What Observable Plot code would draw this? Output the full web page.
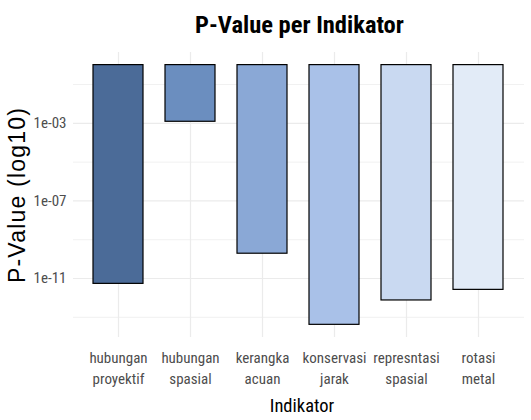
<!DOCTYPE html>
<html><head><meta charset="utf-8">
<script src="https://cdn.jsdelivr.net/npm/d3@7"></script>
<script src="https://cdn.jsdelivr.net/npm/@observablehq/plot@0.6"></script>
<style>
body{margin:0;background:#fff;}
#wrap{position:relative;width:531px;height:420px;}
#title{position:absolute;left:74px;width:451px;top:10px;text-align:center;font-weight:bold;font-size:24.5px;font-family:"Roboto Condensed",Roboto,sans-serif;font-stretch:condensed;color:#000;line-height:30px;}
</style></head><body><div id="wrap"><div id="title">P-Value per Indikator</div></div>
<script>
const indikator = ["hubungan proyektif","hubungan spasial","kerangka acuan","konservasi jarak","represntasi spasial","rotasi metal"];
const pValues = [5.3e-12, 1.2e-3, 1.9e-10, 4.1e-14, 7.4e-13, 2.6e-12];
const fillColors = ["#4b6b98","#6b8ebf","#8aa8d6","#a9c1e8","#c9d9f1","#e2ebf7"];
const majorTicks = [1e-3, 1e-7, 1e-11];
const majorLabels = ["1e-03", "1e-07", "1e-11"];
const minorTicks = [1e-1, 1e-5, 1e-9, 1e-13];

const data = indikator.map((k, i) => ({indikator: k, p: pValues[i], color: fillColors[i]}));
const labelOf = new Map(majorTicks.map((t, i) => [t, majorLabels[i]]));
const narrow = '"Roboto Condensed",Roboto,sans-serif';

const chart = Plot.plot({
  width: 531, height: 420,
  marginTop: 52, marginBottom: 83, marginLeft: 73, marginRight: 7,
  style: {background: "transparent", fontFamily: narrow, fontSize: "15px", color: "#4d4d4d", fontStretch: "condensed"},
  x: {domain: indikator, paddingInner: 0.3, paddingOuter: 0.25, label: null},
  y: {type: "log", domain: [10 ** -14.04, 10 ** 0.65], label: null},
  color: {type: "identity"},
  marks: [
    Plot.gridY(minorTicks, {stroke: "#ebebeb", strokeOpacity: 1, strokeWidth: 0.7}),
    Plot.gridY(majorTicks, {stroke: "#ebebeb", strokeOpacity: 1, strokeWidth: 1.2}),
    Plot.gridX({stroke: "#ebebeb", strokeOpacity: 1, strokeWidth: 1.2}),
    Plot.barY(data, {x: "indikator", y1: 1, y2: "p", fill: "color", stroke: "#000", strokeWidth: 1.2}),
    Plot.axisY(majorTicks, {tickSize: 0, tickPadding: 7, tickFormat: d => labelOf.get(d), label: null, fill: "#4d4d4d"}),
    Plot.axisX({tickSize: 0, tickPadding: 11, tickFormat: d => d.replace(" ", "\n"), lineHeight: 1.4, label: null, fill: "#4d4d4d"}),
    Plot.text(["P-Value (log10)"], {frameAnchor: "left", textAnchor: "middle", rotate: -90, dx: -56, fontSize: 23, fontFamily: '"Liberation Sans",Arial,sans-serif', fill: "#000", className: "ytitle"}),
    Plot.text(["Indikator"], {frameAnchor: "bottom", textAnchor: "middle", dx: 3, dy: 74, fontSize: 18.5, fill: "#000"})
  ]
});
d3.select(chart).selectAll("g.ytitle text").style("letter-spacing", "1.2px");
document.getElementById("wrap").prepend(chart);
</script>
</body></html>
